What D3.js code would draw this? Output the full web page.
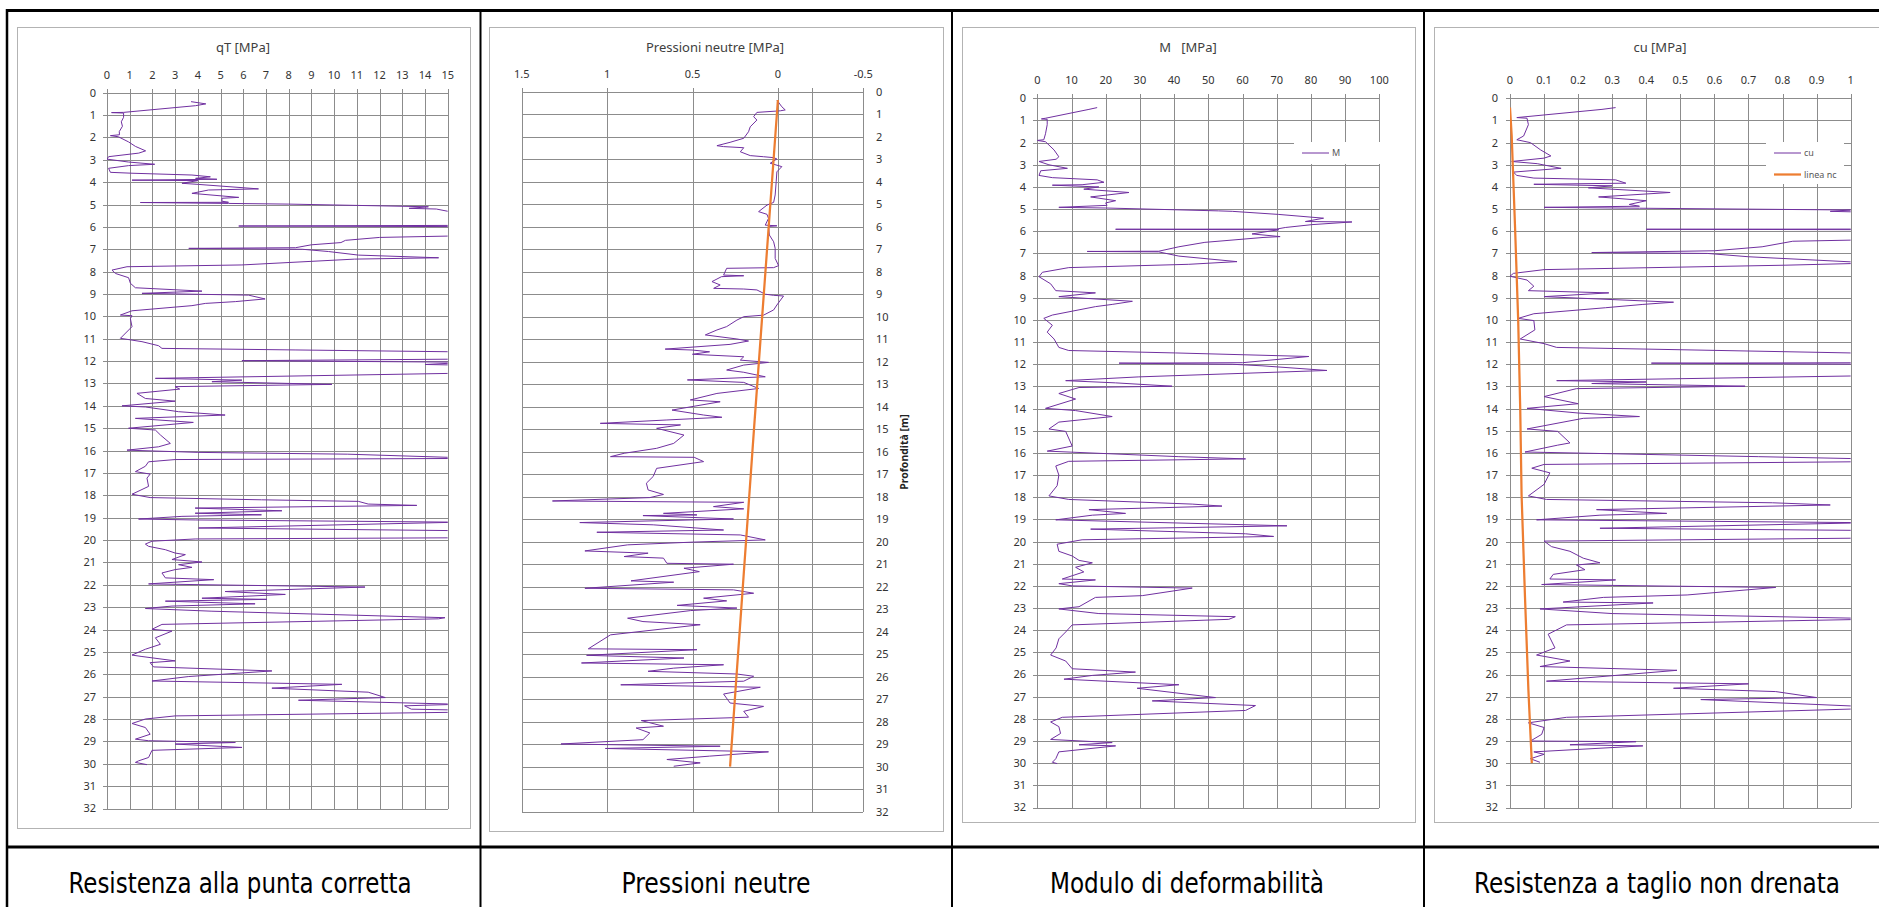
<!DOCTYPE html>
<html>
<head>
<meta charset="utf-8">
<script src="https://cdn.jsdelivr.net/npm/d3@7"></script>
<style>
  body { margin: 0; background: #fff; }
  svg { display: block; }
  .lbl { font-family: "Noto Sans", "Open Sans", sans-serif; font-size: 11px; fill: #333; }
  .ttl { font-family: "Noto Sans", "Open Sans", sans-serif; font-size: 13px; fill: #404040; white-space: pre; }
  .cap { font-family: "DejaVu Sans Condensed", "DejaVu Sans", sans-serif; font-size: 28px; fill: #000; }
  .leg { font-family: "Noto Sans", sans-serif; font-size: 9px; fill: #595959; }
</style>
</head>
<body>
<svg id="chart" width="1879" height="907"></svg>
<script>
// CPTU profiles: [depth m, value]

const depthTicks = d3.range(0, 33);
const qtTicks = d3.range(0, 16);
const uTicks = [1.5, 1, 0.5, 0, -0.5];
const mTicks = [0, 10, 20, 30, 40, 50, 60, 70, 80, 90, 100];
const cuTicks = [0, 0.1, 0.2, 0.3, 0.4, 0.5, 0.6, 0.7, 0.8, 0.9, 1];

const captions = ['Resistenza alla punta corretta', 'Pressioni neutre', 'Modulo di deformabilità', 'Resistenza a taglio non drenata'];

const qtProfile = [[0.40,3.7],[0.50,4.35],[0.58,3.9],[0.88,0.73],[0.89,0.2],[0.91,0.73],[1.10,0.73],[1.30,0.63],[1.50,0.68],[1.74,0.54],[1.88,0.55],[1.92,0.15],[1.97,0.5],[2.20,0.95],[2.40,1.25],[2.60,1.7],[2.70,1.4],[2.86,0.07],[2.97,0.0],[3.10,0.95],[3.20,2.1],[3.26,0.95],[3.38,0.07],[3.56,0.15],[3.60,1.1],[3.68,3.74],[3.76,4.55],[3.83,3.9],[3.87,4.84],[3.91,1.1],[3.93,4.0],[4.05,3.3],[4.10,4.03],[4.30,6.67],[4.35,4.47],[4.50,3.74],[4.68,5.8],[4.72,5.06],[4.85,5.06],[4.90,5.35],[4.91,1.47],[4.95,5.35],[4.98,8.0],[5.10,14.15],[5.17,13.3],[5.20,14.5],[5.30,15.0],[5.41,21],[5.56,23],[5.70,20],[5.85,18],[5.93,16],[5.96,5.8],[5.99,17],[6.12,15.7],[6.24,17.7],[6.41,15.0],[6.47,12.0],[6.60,10.5],[6.70,10.3],[6.80,9.0],[6.93,8.3],[6.96,3.6],[7.00,8.6],[7.10,9.75],[7.26,11.07],[7.38,14.6],[7.44,10.9],[7.70,5.94],[7.78,0.88],[7.93,0.22],[8.08,0.37],[8.27,0.95],[8.52,1.03],[8.72,1.25],[8.87,4.18],[8.97,1.54],[9.05,6.23],[9.22,6.96],[9.34,5.65],[9.42,4.33],[9.52,3.74],[9.75,1.1],[9.94,0.59],[9.97,1.1],[10.10,1.03],[10.46,1.1],[10.98,0.59],[11.06,1.1],[11.13,1.54],[11.31,2.27],[11.43,2.42],[11.50,8.28],[11.58,15.0],[11.65,20],[11.90,17],[11.98,5.94],[12.05,16],[12.15,14.0],[12.28,21],[12.55,15.0],[12.77,2.13],[12.85,5.94],[12.92,4.62],[13.04,9.9],[13.14,3.0],[13.25,3.2],[13.44,1.32],[13.67,1.69],[13.79,3.0],[14.00,0.66],[14.05,1.69],[14.26,3.15],[14.41,5.2],[14.56,1.25],[14.74,3.8],[15.00,0.95],[15.08,2.13],[15.30,2.35],[15.68,2.79],[15.83,2.27],[15.98,0.88],[16.08,4],[16.16,10.6],[16.30,15],[16.35,16],[16.40,3.0],[16.50,1.83],[16.70,1.69],[16.94,1.25],[17.05,1.9],[17.23,1.76],[17.60,1.83],[17.95,1.1],[18.10,1.9],[18.20,6.8],[18.27,11.07],[18.39,11.5],[18.45,13.64],[18.57,3.88],[18.69,7.7],[18.80,3.88],[18.87,6.8],[18.94,3.3],[19.06,1.39],[19.10,3.88],[19.20,15.5],[19.46,4.03],[19.58,15.5],[19.75,18],[19.90,15],[19.95,3.88],[20.05,1.98],[20.18,1.69],[20.28,1.83],[20.43,2.57],[20.58,3.0],[20.65,3.45],[20.87,2.86],[20.98,4.18],[21.10,3.15],[21.22,3.74],[21.32,3.0],[21.47,2.42],[21.69,2.57],[21.77,4.7],[21.96,1.83],[22.10,11.36],[22.30,5.2],[22.43,7.85],[22.60,4.18],[22.65,7.04],[22.73,2.57],[22.85,6.52],[22.95,2.86],[23.06,1.69],[23.18,4.62],[23.47,14.88],[23.52,14.6],[23.77,2.42],[23.99,1.98],[24.07,2.86],[24.37,2.13],[24.66,2.35],[24.88,1.69],[25.14,1.1],[25.20,1.5],[25.40,3.0],[25.48,1.9],[25.67,2.05],[25.85,7.26],[26.10,3.6],[26.30,1.98],[26.45,10.34],[26.62,7.26],[26.80,11.5],[27.04,12.25],[27.16,8.43],[27.34,15.5],[27.41,13.1],[27.56,13.4],[27.60,15.5],[27.70,15.2],[27.86,3.0],[28.00,1.69],[28.20,1.1],[28.38,1.69],[28.68,1.9],[28.90,1.25],[28.97,1.83],[29.05,5.65],[29.12,3.0],[29.27,5.94],[29.40,1.98],[29.72,1.83],[29.87,1.39],[29.94,1.25],[30.04,1.76]];

const uProfile = [[0.37,0.006],[0.67,-0.023],[0.81,-0.043],[0.85,-0.014],[0.92,0.123],[1.11,0.142],[1.26,0.123],[1.56,0.162],[1.78,0.172],[2.07,0.2],[2.25,0.28],[2.40,0.357],[2.44,0.318],[2.49,0.2],[2.67,0.22],[2.84,0.162],[2.89,0.084],[2.93,0.025],[2.99,0.006],[3.18,0.045],[3.33,-0.023],[3.56,0.006],[4.00,0.01],[4.59,0.016],[4.92,0.025],[5.04,0.064],[5.33,0.113],[5.45,0.064],[5.63,0.055],[5.93,0.074],[5.96,0.006],[5.99,0.055],[6.37,0.05],[6.67,0.025],[6.96,0.016],[7.41,0.016],[7.73,-0.004],[7.82,0.025],[7.85,0.3],[8.15,0.318],[8.18,0.2],[8.22,0.33],[8.44,0.386],[8.59,0.338],[8.74,0.376],[8.77,0.2],[8.81,0.123],[9.00,0.074],[9.05,0.025],[9.08,-0.033],[9.48,0.006],[9.70,0.025],[9.93,0.084],[10.00,0.2],[10.15,0.24],[10.44,0.3],[10.59,0.357],[10.81,0.425],[10.99,0.24],[11.08,0.172],[11.23,0.28],[11.44,0.66],[11.48,0.503],[11.56,0.4],[11.67,0.5],[11.78,0.2],[11.93,0.22],[12.03,0.055],[12.15,0.2],[12.37,0.3],[12.47,0.2],[12.67,0.074],[12.81,0.53],[12.92,0.2],[13.19,0.113],[13.41,0.357],[13.70,0.513],[13.78,0.338],[14.15,0.62],[14.37,0.435],[14.47,0.328],[14.59,0.65],[14.74,1.04],[14.81,0.57],[14.96,0.71],[15.26,0.55],[15.63,0.61],[15.85,0.71],[16.07,0.9],[16.22,0.98],[16.25,0.49],[16.44,0.435],[16.74,0.71],[17.10,0.73],[17.40,0.77],[17.70,0.76],[17.90,0.67],[18.04,0.75],[18.19,1.32],[18.25,0.2],[18.44,0.377],[18.54,0.2],[18.74,0.67],[18.81,0.474],[18.84,0.79],[18.99,0.26],[19.15,1.16],[19.25,0.73],[19.48,0.318],[19.58,1.06],[19.70,0.22],[19.92,0.074],[20.02,0.503],[20.14,0.88],[20.41,1.13],[20.51,0.76],[20.66,0.9],[20.73,0.67],[20.96,0.65],[21.00,0.26],[21.18,0.55],[21.33,0.46],[21.74,0.86],[21.80,0.61],[22.07,1.13],[22.14,0.26],[22.29,0.142],[22.51,0.435],[22.63,0.3],[22.83,0.59],[22.95,0.24],[23.06,0.51],[23.40,0.88],[23.55,0.79],[23.69,0.455],[24.14,0.98],[24.76,1.11],[24.80,0.474],[25.05,1.12],[25.17,0.55],[25.39,1.15],[25.47,0.318],[25.62,0.61],[25.76,0.76],[25.88,0.24],[25.98,0.142],[26.20,0.2],[26.36,0.92],[26.47,0.103],[26.77,0.318],[27.17,0.28],[27.32,0.084],[27.54,0.2],[27.80,0.172],[27.95,0.8],[28.20,0.67],[28.28,0.83],[28.50,0.75],[28.80,0.79],[28.99,1.27],[29.09,0.338],[29.19,1.01],[29.34,0.055],[29.53,0.4],[29.68,0.65],[29.83,0.455],[29.98,0.61]];

const uHydro = [[0.37,0.0],[15.0,0.14],[30.0,0.28]];

const mProfile = [[0.42,17.5],[0.50,15.1],[0.90,2.4],[0.93,1.2],[0.95,2.9],[1.19,2.9],[1.60,2.4],[1.87,1.9],[1.90,0],[1.96,2.4],[2.33,4.9],[2.64,6.3],[2.75,5.5],[2.85,0.5],[3.00,3.4],[3.16,8.8],[3.27,1.0],[3.48,0.5],[3.58,4.4],[3.68,17.5],[3.79,19.5],[3.90,13.1],[3.92,4.4],[4.00,18],[4.10,13.6],[4.25,26.8],[4.45,15.6],[4.62,22.9],[4.72,20],[4.83,20.4],[4.92,6.3],[4.95,20],[5.08,53],[5.10,57],[5.24,70.6],[5.41,83.7],[5.56,78.4],[5.58,92],[5.70,80.3],[5.83,72.5],[5.90,70],[5.91,22.9],[5.93,70.6],[6.12,62.8],[6.24,71],[6.28,66],[6.50,49],[6.70,41.4],[6.90,35.5],[6.91,14.6],[6.93,35.5],[7.12,41.4],[7.37,58.4],[7.49,44.3],[7.64,9.2],[7.85,1.5],[8.05,0.5],[8.37,3.9],[8.68,5.4],[8.78,17],[8.95,6.3],[9.16,27.8],[9.30,21.9],[9.40,17],[9.78,4.4],[9.93,1.9],[10.24,4.4],[10.55,2.9],[10.86,4.9],[11.24,6.3],[11.38,9.2],[11.49,40.4],[11.65,79.4],[11.93,60],[11.95,23.9],[12.00,57],[12.07,65.7],[12.28,84.7],[12.57,29.7],[12.74,8.3],[12.84,22.9],[12.99,39.4],[13.05,12.2],[13.32,6.3],[13.57,11.2],[13.99,2.4],[14.09,11.2],[14.36,21.9],[14.61,6.3],[14.92,3.4],[15.03,8.3],[15.69,10.2],[15.92,2.9],[16.17,41.4],[16.27,60.9],[16.38,9.2],[16.59,5.4],[17.00,6.3],[17.48,5.8],[17.94,3.4],[18.10,9.2],[18.31,45.3],[18.40,54],[18.56,15.1],[18.73,25.8],[18.81,16.1],[19.02,5.4],[19.29,73],[19.44,15.6],[19.65,60.9],[19.77,69.1],[19.92,13.1],[20.12,5.8],[20.44,6.3],[20.65,10.2],[20.85,12.2],[20.96,16.1],[21.16,11.2],[21.37,13.6],[21.69,7.3],[21.73,17],[21.90,6.3],[22.00,10.2],[22.10,45.3],[22.44,30.7],[22.52,17],[22.94,12.2],[23.04,6.3],[23.25,18],[23.39,57.9],[23.51,56],[23.76,10.2],[24.08,8.3],[24.39,6.3],[24.80,5.5],[25.12,3.9],[25.39,8.3],[25.74,10.2],[25.89,28.7],[26.04,16.1],[26.21,7.8],[26.46,41.4],[26.62,29.2],[27.04,52.1],[27.19,33.6],[27.40,63.8],[27.62,60.9],[27.93,7.3],[28.14,3.9],[28.35,6.3],[28.66,6.8],[28.93,3.9],[29.07,21.9],[29.17,12.2],[29.22,22.9],[29.49,6.3],[29.80,5.4],[29.96,4.4],[30.02,5.8]];

const cuProfile = [[0.42,0.31],[0.50,0.27],[0.87,0.02],[0.90,0.05],[1.19,0.054],[1.70,0.04],[1.87,0.02],[2.00,0.06],[2.33,0.09],[2.60,0.12],[2.70,0.10],[2.85,0.005],[2.95,0.08],[3.16,0.15],[3.33,0.01],[3.48,0.02],[3.60,0.07],[3.68,0.31],[3.83,0.34],[3.88,0.07],[3.95,0.30],[4.04,0.23],[4.25,0.47],[4.45,0.26],[4.62,0.40],[4.79,0.35],[4.87,0.38],[4.92,0.10],[4.96,0.38],[5.04,1.0],[5.10,0.94],[5.14,1.05],[5.40,1.4],[5.56,1.55],[5.75,1.3],[5.90,1.1],[5.91,0.40],[5.93,1.1],[6.20,1.15],[6.40,1.0],[6.45,0.83],[6.70,0.74],[6.88,0.60],[6.96,0.24],[7.00,0.58],[7.15,0.70],[7.38,1.0],[7.45,1.02],[7.53,0.81],[7.73,0.10],[7.90,0.01],[8.03,0.0],[8.20,0.05],[8.48,0.07],[8.68,0.054],[8.78,0.29],[8.95,0.10],[9.20,0.48],[9.30,0.39],[9.45,0.28],[9.72,0.07],[9.93,0.024],[10.03,0.07],[10.45,0.073],[10.86,0.03],[11.07,0.10],[11.24,0.137],[11.49,1.0],[11.65,1.35],[11.93,1.1],[11.95,0.415],[12.00,1.1],[12.28,1.4],[12.53,1.0],[12.74,0.137],[12.80,0.40],[12.87,0.24],[12.99,0.69],[13.10,0.195],[13.46,0.10],[13.78,0.20],[13.99,0.05],[14.20,0.20],[14.36,0.38],[14.44,0.215],[14.92,0.05],[15.03,0.14],[15.55,0.176],[15.65,0.14],[15.96,0.044],[16.17,0.73],[16.27,1.05],[16.40,1.02],[16.52,0.10],[16.69,0.064],[16.90,0.117],[17.42,0.10],[17.94,0.054],[18.10,0.107],[18.25,0.77],[18.35,0.94],[18.56,0.254],[18.73,0.46],[18.81,0.264],[19.02,0.078],[19.15,1.05],[19.40,0.264],[19.50,1.05],[19.70,1.2],[19.85,1.0],[19.98,0.10],[20.23,0.122],[20.44,0.176],[20.75,0.215],[20.96,0.264],[21.06,0.195],[21.27,0.22],[21.48,0.127],[21.69,0.117],[21.73,0.31],[21.94,0.093],[22.07,0.78],[22.41,0.52],[22.52,0.274],[22.73,0.156],[22.77,0.42],[23.04,0.088],[23.25,0.30],[23.46,1.02],[23.52,1.01],[23.76,0.166],[24.18,0.112],[24.80,0.132],[25.12,0.078],[25.39,0.176],[25.64,0.088],[25.81,0.49],[26.30,0.107],[26.42,0.70],[26.62,0.48],[26.77,0.78],[27.04,0.90],[27.13,0.56],[27.45,1.05],[27.55,1.02],[27.93,0.166],[28.18,0.054],[28.39,0.10],[28.70,0.093],[29.00,0.06],[29.03,0.37],[29.17,0.176],[29.22,0.39],[29.49,0.07],[29.60,0.10],[29.80,0.06],[29.96,0.088]];

const cuNc = [[0.42,0.0],[1.7,0.005],[3.8,0.01],[5.9,0.015],[10,0.024],[14,0.03],[17.9,0.034],[22.5,0.044],[26.7,0.054],[30,0.064]];

const PURPLE = '#7030a0', ORANGE = '#ed7d31', GRID = '#8c8c8c';

const svg = d3.select('#chart');
const defs = svg.append('defs');

// table frame
const frame = svg.append('g').attr('stroke', '#000');
frame.append('line').attr('x1', 6).attr('x2', 1879).attr('y1', 10.5).attr('y2', 10.5).attr('stroke-width', 3);
frame.append('line').attr('x1', 6).attr('x2', 1879).attr('y1', 847).attr('y2', 847).attr('stroke-width', 3);
[7, 480.5, 952, 1424].forEach(x => {
    frame.append('line').attr('x1', x).attr('x2', x).attr('y1', 9).attr('y2', 907).attr('stroke-width', x == 7 ? 2.5 : 2);
});

function panel(cfg, idx) {
    let g = svg.append('g');
    let [bx0, by0, bx1, by1] = cfg.box;
    g.append('rect').attr('x', bx0 + 0.5).attr('y', by0 + 0.5)
        .attr('width', bx1 - bx0).attr('height', by1 - by0)
        .attr('fill', '#fff').attr('stroke', '#b3b3b3').attr('stroke-width', 1);

    let x = d3.scaleLinear().domain(cfg.xDomain).range(cfg.xRange);
    let y = d3.scaleLinear().domain([0, 32]).range(cfg.yRange);
    let xl = Math.min(...cfg.xRange), xr = Math.max(...cfg.xRange);

    // grid
    let grid = g.append('g').attr('stroke', GRID).attr('stroke-width', 1).attr('shape-rendering', 'crispEdges');
    grid.selectAll('.v').data(cfg.xGrid).enter().append('line')
        .attr('x1', d => Math.round(x(d)) + 0.5).attr('x2', d => Math.round(x(d)) + 0.5)
        .attr('y1', y(0) - (cfg.tickTop ? 4 : 0)).attr('y2', y(32));
    grid.selectAll('.h').data(depthTicks).enter().append('line')
        .attr('x1', cfg.yRight ? xl : xl - 4).attr('x2', xr)
        .attr('y1', d => Math.round(y(d)) + 0.5).attr('y2', d => Math.round(y(d)) + 0.5);

    // x tick labels (top)
    g.selectAll('.xt').data(cfg.xTicks).enter().append('text')
        .attr('class', 'lbl').attr('text-anchor', 'middle')
        .attr('x', d => x(d)).attr('y', cfg.xLabelY)
        .text(d => d);

    // depth labels
    g.selectAll('.yt').data(depthTicks).enter().append('text')
        .attr('class', 'lbl')
        .attr('text-anchor', cfg.yRight ? 'start' : 'end')
        .attr('x', cfg.yLabelX).attr('y', d => y(d)).attr('dy', '0.36em')
        .text(d => d);

    g.append('text').attr('class', 'ttl').attr('text-anchor', 'middle')
        .attr('x', cfg.titleX).attr('y', 52).text(cfg.title);

    // series
    let clipId = 'clip' + idx;
    defs.append('clipPath').attr('id', clipId).append('rect')
        .attr('x', xl).attr('y', y(0) - 2).attr('width', xr - xl).attr('height', y(32) - y(0) + 2);
    let plot = g.append('g').attr('clip-path', `url(#${clipId})`);
    let line = d3.line().x(d => x(d[1])).y(d => y(d[0]));
    cfg.series.forEach(s => {
        plot.append('path').datum(s.data)
            .attr('d', line).attr('fill', 'none')
            .attr('stroke', s.color).attr('stroke-width', s.width)
            .attr('stroke-linejoin', 'round');
    });

    if (cfg.legend) {
        let lg = g.append('g');
        let [lx, ly, lw, lh] = cfg.legend.box;
        lg.append('rect').attr('x', lx).attr('y', ly).attr('width', lw).attr('height', lh).attr('fill', '#fff');
        cfg.legend.items.forEach((it, i) => {
            let yy = ly + 11 + i * 21.5;
            lg.append('line').attr('x1', lx + 8).attr('x2', lx + 35).attr('y1', yy).attr('y2', yy)
                .attr('stroke', it.color).attr('stroke-width', it.width);
            lg.append('text').attr('class', 'leg').attr('x', lx + 38).attr('y', yy).attr('dy', '0.35em').text(it.name);
        });
    }
    return {g, x, y};
}

panel({
    box: [17, 27, 470, 828], xDomain: [0, 15], xRange: [107, 447.7], yRange: [92.7, 808.5],
    xTicks: qtTicks, xGrid: qtTicks, tickTop: true, xLabelY: 79, yLabelX: 96,
    title: 'qT [MPa]', titleX: 243,
    series: [{data: qtProfile, color: PURPLE, width: 1}]
}, 1);

let p2 = panel({
    box: [489, 27, 943, 831], xDomain: [1.5, -0.5], xRange: [521.7, 863.3], yRange: [91.7, 811.7],
    xTicks: uTicks, xGrid: [1.5, 1, 0.5, 0, -0.2, -0.5], tickTop: true, xLabelY: 78, yLabelX: 876, yRight: true,
    title: 'Pressioni neutre [MPa]', titleX: 715,
    series: [{data: uProfile, color: PURPLE, width: 1}, {data: uHydro, color: ORANGE, width: 2.25}]
}, 2);

p2.g.append('text')
    .attr('transform', 'translate(908,452) rotate(-90)')
    .attr('text-anchor', 'middle')
    .style('font-family', '"Noto Sans", sans-serif').style('font-size', '10.5px').style('font-weight', 'bold')
    .style('fill', '#222')
    .text('Profondità [m]');

panel({
    box: [962, 27, 1415, 822], xDomain: [0, 100], xRange: [1037.3, 1379.3], yRange: [98.3, 807.5],
    xTicks: mTicks, xGrid: mTicks, tickTop: true, xLabelY: 84, yLabelX: 1026,
    title: 'M   [MPa]', titleX: 1188,
    series: [{data: mProfile, color: PURPLE, width: 1}],
    legend: {box: [1294, 142, 90, 22], items: [{name: 'M', color: PURPLE, width: 1}]}
}, 3);

panel({
    box: [1434, 27, 1895, 822], xDomain: [0, 1], xRange: [1510, 1850.7], yRange: [98.3, 807.5],
    xTicks: cuTicks, xGrid: cuTicks, tickTop: true, xLabelY: 84, yLabelX: 1498,
    title: 'cu [MPa]', titleX: 1660,
    series: [{data: cuProfile, color: PURPLE, width: 1}, {data: cuNc, color: ORANGE, width: 2.25}],
    legend: {box: [1766, 142, 78, 42], items: [{name: 'cu', color: PURPLE, width: 1}, {name: 'linea nc', color: ORANGE, width: 2.25}]}
}, 4);

// captions row
const capPos = [[240, 343], [716, 189], [1187, 274], [1657, 366]];
svg.selectAll('.cap').data(captions).enter().append('text')
    .attr('class', 'cap').attr('text-anchor', 'middle')
    .attr('x', (d, i) => capPos[i][0]).attr('y', 893)
    .attr('textLength', (d, i) => capPos[i][1]).attr('lengthAdjust', 'spacingAndGlyphs')
    .text(d => d);
</script>
</body>
</html>
